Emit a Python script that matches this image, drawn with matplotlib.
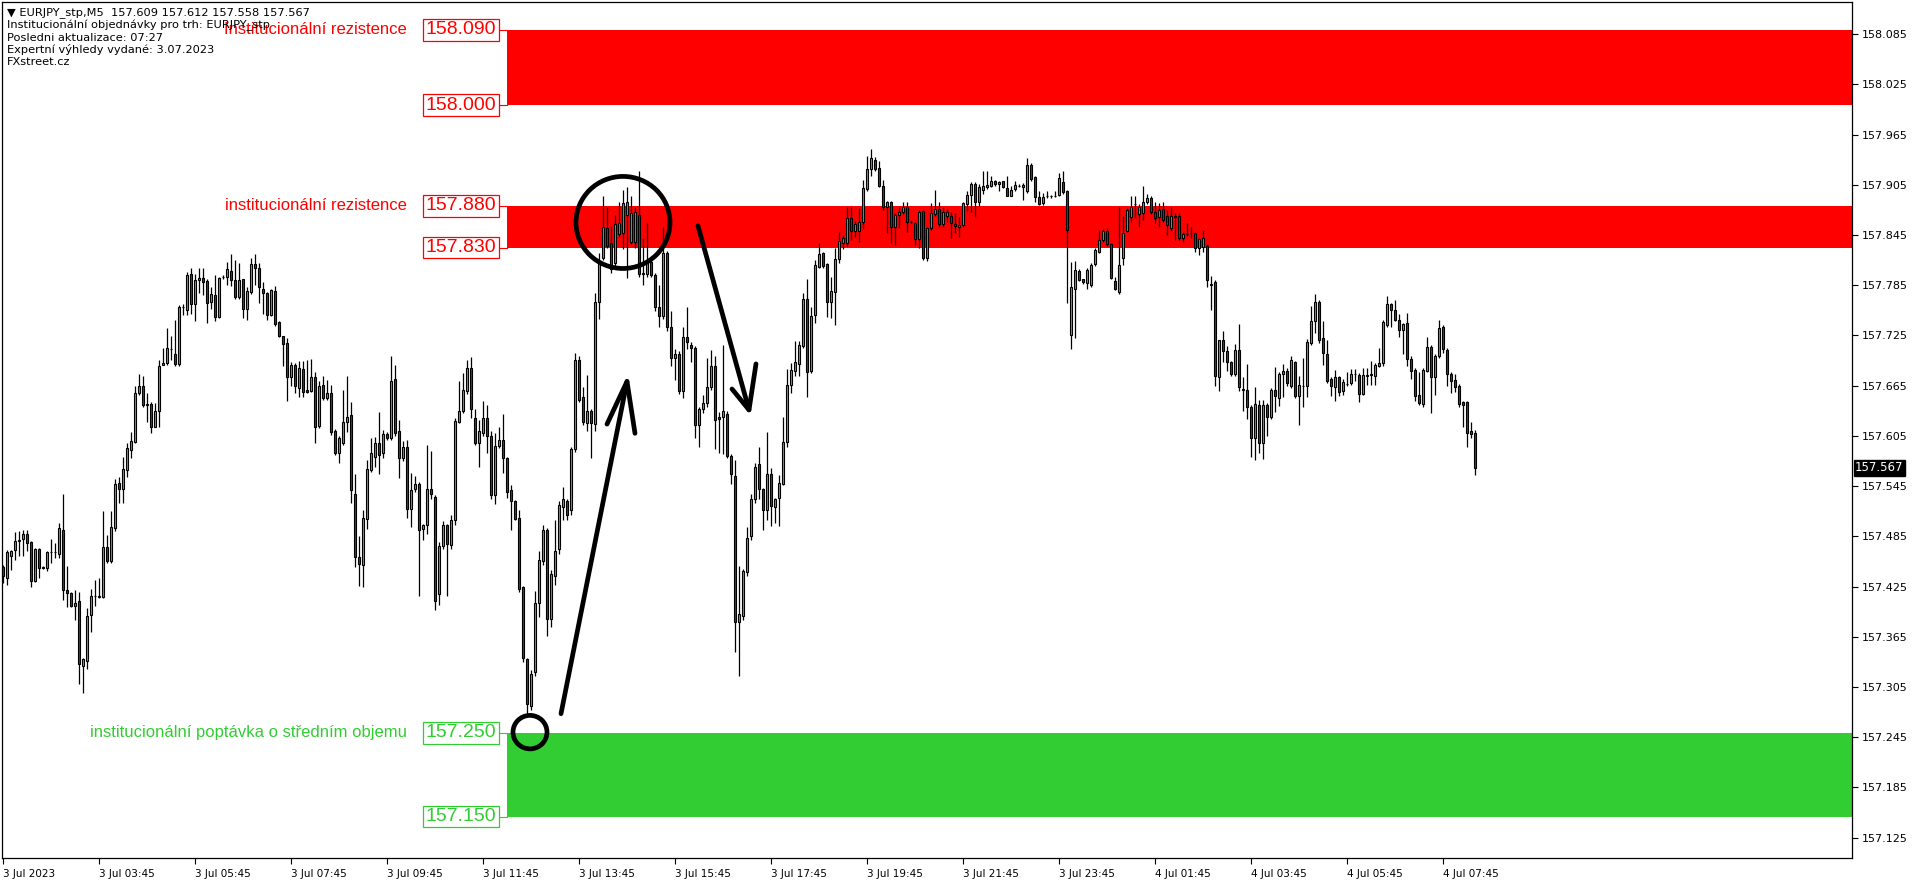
import numpy as np
import matplotlib
matplotlib.use("Agg")
import matplotlib.pyplot as plt
from matplotlib.patches import Ellipse
from matplotlib.transforms import blended_transform_factory

# EURJPY M5 candles, prices as points above 157.000
base = 157.0
opens = [448,435,462,469,479,482,488,478,431,470, 448,447,466,466,464,492,421,417,402,408,
         330,336,391,414,414,412,472,455,495,549, 541,564,588,598,656,664,643,643,616,635,
         690,692,709,703,691,759,755,798,763,791, 794,790,765,773,747,795,795,802,791,771,
         792,757,777,810,805,780,776,750,778,741, 724,716,675,690,662,685,660,659,675,617,
         666,650,656,611,585,596,621,630,536,460, 451,506,564,580,596,585,607,603,673,611,
         579,592,518,541,548,494,498,542,532,416, 473,498,475,504,622,635,659,686,626,597,
         609,626,605,534,593,600,579,540,527,507, 424,338,282,323,405,455,493,386,438,470,
         520,527,516,589,696,651,620,635,619,765, 817,853,835,811,846,847,869,837,837,869,
         798,798,813,797,759,748,823,735,698,703, 659,723,714,710,618,637,644,663,688,628,
         628,631,581,557,383,390,442,485,529,571, 541,517,559,520,531,548,598,666,683,691,
         712,769,683,749,807,823,810,765,777,816, 836,835,865,850,850,860,900,924,935,925,
         904,879,884,854,869,872,878,860,859,840, 874,817,853,870,876,858,868,868,858,854,
         857,882,893,906,884,899,902,904,910,906, 909,901,892,900,904,902,897,929,914,890,
         883,891,891,891,893,908,897,726,781,802, 792,788,785,810,825,839,850,834,790,777,
         818,850,867,882,870,871,884,889,872,867, 876,868,853,866,868,841,846,847,847,830,
         831,832,785,789,675,720,706,693,679,708, 661,660,639,603,642,597,642,628,660,650,
         679,683,665,693,653,665,665,716,742,765, 722,703,673,663,675,659,667,668,679,678,
         655,678,678,677,688,692,737,762,755,744, 731,740,697,684,654,643,683,711,675,700,
         735,708,679,672,665,645,645,611,609]
highs = [451,469,469,490,491,492,493,479,471,471, 449,467,482,477,501,536,449,418,421,419,
         339,399,422,433,435,515,487,515,554,556, 580,596,610,664,679,677,656,645,644,696,
         710,734,724,743,761,763,801,805,798,806, 806,792,783,797,795,797,813,822,815,811,
         793,783,818,822,812,789,777,780,784,742, 724,722,693,692,694,694,696,697,681,670,
         677,672,666,613,605,660,676,645,560,485, 517,576,602,604,633,612,610,700,690,624,
         599,600,561,557,550,500,594,587,534,478, 503,500,510,626,670,680,696,699,637,624,
         647,642,611,609,615,631,580,546,528,516, 426,340,325,420,468,498,495,445,505,527,
         544,530,592,704,700,663,678,637,776,824, 891,878,856,869,884,899,902,891,878,921,
         841,859,819,800,785,854,826,754,709,706, 735,759,717,712,640,654,698,707,700,633,
         713,635,583,576,449,446,496,535,572,592, 543,610,566,531,558,628,685,692,718,718,
         776,793,759,815,835,825,812,795,829,849, 845,879,879,862,877,911,939,948,938,933,
         911,886,886,871,879,885,885,863,860,875, 875,855,883,899,885,878,876,872,871,867,
         885,897,908,908,906,921,922,915,911,910, 910,915,903,909,906,907,937,931,915,897,
         895,897,893,897,919,921,899,813,814,804, 793,806,812,829,851,852,853,835,795,878,
         868,877,891,891,882,903,894,891,885,883, 884,875,879,871,871,848,859,855,849,842,
         851,834,796,791,720,730,712,695,715,739, 675,691,642,663,648,648,644,662,687,681,
         691,686,700,695,677,698,721,760,775,767, 742,720,675,684,677,673,681,685,685,680,
         686,686,695,692,710,743,772,764,767,751, 740,752,700,686,681,686,723,713,703,744,
         737,710,681,679,667,647,647,622,612]
lows = [429,427,445,457,461,461,467,425,430,435, 446,443,453,459,459,409,401,401,385,309,
        298,326,371,402,411,411,453,453,491,525, 525,556,578,596,654,640,621,608,615,616,
        690,690,696,688,689,750,750,751,742,776, 773,740,757,742,746,793,785,784,769,769,
        746,743,775,785,764,751,743,748,736,723, 688,647,664,656,652,651,656,657,596,614,
        648,648,606,582,572,594,610,525,448,426, 424,494,562,568,560,579,600,600,605,555,
        575,507,496,538,414,480,488,530,397,403, 470,414,470,498,620,632,655,626,594,568,
        605,585,530,524,590,561,531,492,505,418, 335,272,278,318,388,451,366,377,427,464,
        505,505,510,586,645,618,611,579,611,745, 815,830,800,804,843,828,794,834,830,795,
        785,795,795,754,735,745,730,689,672,655, 650,709,693,603,592,632,640,660,589,585,
        583,578,548,347,318,385,438,480,525,529, 493,505,497,501,497,546,592,656,676,677,
        710,651,680,740,805,805,747,746,737,811, 828,832,839,843,837,852,897,915,921,902,
        875,847,836,833,853,870,849,859,833,829, 815,814,851,868,855,855,860,842,847,843,
        855,874,873,866,880,894,900,902,904,897, 901,891,891,898,902,887,895,910,884,881,
        881,889,889,890,891,894,764,709,722,790, 786,781,783,808,823,837,832,792,779,775,
        809,849,861,865,855,863,882,870,859,855, 861,845,850,839,839,837,844,841,825,821,
        825,783,755,665,659,693,683,677,677,659, 635,625,580,576,585,577,605,625,633,641,
        652,665,662,650,618,640,652,714,728,716, 690,668,653,647,653,654,664,666,671,645,
        654,666,666,666,687,688,735,735,742,723, 703,689,673,647,642,640,681,632,654,698,
        704,665,656,657,639,616,592,602,558]
closes = [437,466,467,479,481,488,477,431,470,447, 447,466,466,466,495,421,417,402,405,332,
          338,390,414,414,412,472,455,496,548,541, 565,590,599,656,664,642,642,615,635,688,
          692,710,709,691,759,759,797,763,791,794, 789,764,775,747,794,795,804,791,771,791,
          757,778,810,806,783,776,750,779,739,724, 715,675,690,664,686,658,658,675,616,665,
          650,656,610,585,603,622,628,540,460,452, 507,565,585,596,582,607,603,671,609,579,
          592,518,540,548,492,498,541,535,408,473, 498,476,504,623,635,660,686,637,597,611,
          626,605,534,593,600,579,538,527,506,422, 340,285,321,405,457,492,386,440,468,522,
          529,511,589,696,648,622,635,620,765,811, 854,832,804,858,859,883,884,871,873,798,
          800,813,797,759,748,824,735,698,703,659, 723,717,710,618,637,644,663,688,624,625,
          635,581,559,383,392,443,483,529,568,541, 517,560,521,529,549,598,666,684,693,713,
          768,681,748,809,822,808,765,778,816,838, 841,865,850,858,861,901,924,937,924,904,
          878,884,854,869,873,878,860,861,840,873, 817,853,871,876,858,873,873,859,856,857,
          883,893,906,884,902,904,905,910,906,908, 902,892,899,905,904,905,929,912,890,882,
          890,891,891,892,913,896,851,783,803,791, 789,803,809,827,839,850,834,794,780,809,
          847,875,878,882,878,884,889,872,865,875, 863,857,868,868,841,846,846,847,830,840,
          842,791,787,676,720,706,693,679,707,663, 660,639,602,643,596,642,628,660,653,679,
          682,668,696,653,666,665,717,742,765,719, 704,671,665,675,657,669,667,679,679,655,
          678,677,679,690,692,741,762,755,744,731, 739,697,682,653,644,684,711,675,701,734,
          709,679,670,663,643,642,609,607,567]
assert len(opens) == len(highs) == len(lows) == len(closes)

time_labels = ["3 Jul 2023", "3 Jul 03:45", "3 Jul 05:45", "3 Jul 07:45", "3 Jul 09:45",
               "3 Jul 11:45", "3 Jul 13:45", "3 Jul 15:45", "3 Jul 17:45", "3 Jul 19:45",
               "3 Jul 21:45", "3 Jul 23:45", "4 Jul 01:45", "4 Jul 03:45", "4 Jul 05:45",
               "4 Jul 07:45"]
bars_per_label = 24
price_ticks = [158.085, 158.025, 157.965, 157.905, 157.845, 157.785, 157.725, 157.665,
               157.605, 157.545, 157.485, 157.425, 157.365, 157.305, 157.245, 157.185, 157.125]
last_price = 157.567

# zones: (low, high, colour, label)
zones = [(158.000, 158.090, "#FF0000", "Institucionální rezistence"),
         (157.830, 157.880, "#FF0000", "institucionální rezistence"),
         (157.150, 157.250, "#32CD32", "institucionální poptávka o středním objemu")]
zone_start = 126

header = ["\u25BC EURJPY_stp,M5  157.609 157.612 157.558 157.567",
          "Institucionální objednávky pro trh: EURJPY_stp",
          "Posledni aktualizace: 07:27",
          "Expertní výhledy vydané: 3.07.2023",
          "FXstreet.cz"]

o = base + np.array(opens) / 1000
h = base + np.array(highs) / 1000
l = base + np.array(lows) / 1000
c = base + np.array(closes) / 1000
x = np.arange(len(o))

W, H = 1916, 884
fig = plt.figure(figsize=(W / 100, H / 100), dpi=100)
ax = fig.add_axes([2 / W, 26 / H, 1850 / W, 856 / H])
ax.set_xlim(-0.25, 462.25)
ax.set_ylim(157.1006, 158.1234)

# zones
for lo, hi, col, txt in zones:
    ax.fill_between([zone_start, 470], lo, hi, color=col, lw=0, zorder=1)
    for lev in (lo, hi):
        ax.plot([123.8, zone_start], [lev, lev], color=col, lw=0.8, zorder=1)
        ax.text(123.3, lev, "%.3f" % lev, color=col, fontsize=14, family="Liberation Sans",
                ha="right", va="center", zorder=3,
                bbox=dict(boxstyle="square,pad=0.12", fc="white", ec=col, lw=0.9))
    ax.text(101, hi, txt, color=col, fontsize=12, family="Liberation Sans",
            ha="right", va="center", zorder=3)

# candles
up = c >= o
ax.vlines(x, l, h, color="black", lw=0.9, zorder=4)
ax.bar(x[up], (c - o)[up], bottom=o[up], width=0.6, color="#32CD32",
       edgecolor="black", lw=0.8, zorder=5)
ax.bar(x[~up], (o - c)[~up], bottom=c[~up], width=0.6, color="#E00000",
       edgecolor="black", lw=0.8, zorder=5)

# hand drawn marks
pen = dict(color="black", lw=3.4, solid_capstyle="round", zorder=6)
ax.add_patch(Ellipse((155, 157.860), 23.5, 0.110, fill=False, ec="black", lw=3.4, zorder=6))
ax.add_patch(Ellipse((131.75, 157.251), 8.5, 0.040, fill=False, ec="black", lw=3.4, zorder=6))
ax.plot([139.5, 156], [157.273, 157.670], **pen)
ax.plot([151, 156, 158], [157.619, 157.670, 157.608], **pen)
ax.plot([173.75, 186.5], [157.856, 157.636], **pen)
ax.plot([182.25, 186.5, 188.25], [157.661, 157.636, 157.691], **pen)

# axes look
for s in ax.spines.values():
    s.set_color("black")
    s.set_linewidth(0.9)
ax.yaxis.tick_right()
ax.set_yticks(price_ticks)
ax.set_yticklabels(["%.3f" % t for t in price_ticks])
ax.tick_params(axis="y", length=4, width=0.8, pad=3, labelsize=8, colors="black")
ticks = [i * bars_per_label for i in range(len(time_labels))]
ax.set_xticks(ticks)
ax.set_xticklabels(time_labels)
ax.tick_params(axis="x", length=4, width=0.8, pad=4, labelsize=7.5)
for lab in ax.get_xticklabels():
    lab.set_ha("left")
    lab.set_family("DejaVu Sans")

tr = blended_transform_factory(ax.transAxes, ax.transData)
ax.text(1.0017, last_price, "%.3f" % last_price, transform=tr, color="white", fontsize=8.5,
        ha="left", va="center", zorder=10,
        bbox=dict(boxstyle="square,pad=0.12", fc="black", ec="black"))

for i, line in enumerate(header):
    ax.text(0.0027, 1 - (11 + 12.3 * i) / 856, line, transform=ax.transAxes,
            fontsize=8.2, family="DejaVu Sans", ha="left", va="center", zorder=8)

fig.savefig("out.png", dpi=100)
